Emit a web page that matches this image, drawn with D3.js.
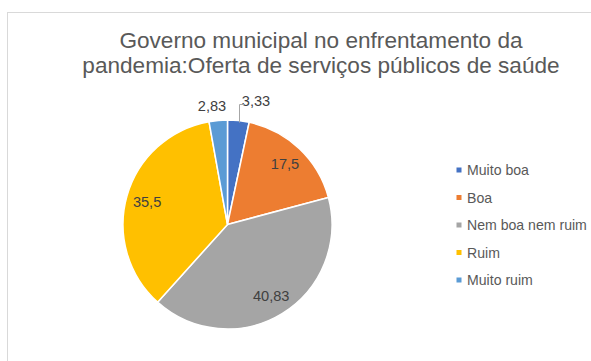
<!DOCTYPE html>
<html>
<head>
<meta charset="utf-8">
<script src="https://cdn.jsdelivr.net/npm/d3@7"></script>
<style>
  html, body { margin: 0; padding: 0; background: #fff; }
  svg { display: block; font-family: "Liberation Sans", Arial, sans-serif; }
</style>
</head>
<body>
<svg id="chart" width="591" height="361"></svg>
<script>
// Avaliação do governo municipal: oferta de serviços públicos de saúde (%)
const categories = ["Muito boa", "Boa", "Nem boa nem ruim", "Ruim", "Muito ruim"];
const values = [3.33, 17.5, 40.83, 35.5, 2.83];
const valueLabels = ["3,33", "17,5", "40,83", "35,5", "2,83"];
const colors = ["#4472C4", "#ED7D31", "#A5A5A5", "#FFC000", "#5B9BD5"];
const titleLines = ["Governo municipal no enfrentamento da", "pandemia:Oferta de serviços públicos de saúde"];

const svg = d3.select("#chart");

// chart area frame
svg.append("rect")
  .attr("x", 7.5).attr("y", 12.5)
  .attr("width", 600).attr("height", 400)
  .attr("fill", "#fff")
  .attr("stroke", "#d9d9d9")
  .attr("stroke-width", 1);

// title
svg.append("text")
  .attr("x", 321).attr("y", 47.5)
  .attr("text-anchor", "middle")
  .attr("fill", "#595959")
  .style("font-size", "22.6px")
  .selectAll("tspan")
  .data(titleLines)
  .join("tspan")
  .attr("x", 321)
  .attr("dy", (d, i) => i === 0 ? 0 : 25.7)
  .text(d => d);

// pie
const cx = 227.5, cy = 224.5, R = 104.5;
const pie = d3.pie().sort(null).value(d => d)(values);
const arc = d3.arc().innerRadius(0).outerRadius(R);
const labelArc = d3.arc().innerRadius(R * 0.8).outerRadius(R * 0.8);

const g = svg.append("g").attr("transform", `translate(${cx},${cy})`);

g.selectAll("path")
  .data(pie)
  .join("path")
  .attr("d", arc)
  .attr("fill", (d, i) => colors[i])
  .attr("stroke", "#fff")
  .attr("stroke-width", 1.5)
  .attr("stroke-linejoin", "round");

// data labels: the two small slices get their labels above the pie
const outsidePos = {
  0: { x: 256, y: 106 },
  4: { x: 212, y: 110.5 }
};

pie.forEach((d, i) => {
  let x, y;
  if (outsidePos[i]) {
    x = outsidePos[i].x; y = outsidePos[i].y;
  } else {
    const c = labelArc.centroid(d);
    x = cx + c[0]; y = cy + c[1] + 5.5;
  }
  svg.append("text")
    .attr("x", x).attr("y", y)
    .attr("text-anchor", "middle")
    .attr("fill", "#404040")
    .style("font-size", "14.6px")
    .text(valueLabels[i]);
});

// leader line for the first slice
const edgeY = cy - R * Math.cos((pie[0].startAngle + pie[0].endAngle) / 2);
svg.append("path")
  .attr("d", `M239.5,${edgeY + 2}V104.5H244`)
  .attr("fill", "none")
  .attr("stroke", "#a6a6a6")
  .attr("stroke-width", 1);

// legend
const legend = svg.append("g");
const rowY = d3.scalePoint().domain(categories).range([170, 280]);
categories.forEach((c, i) => {
  const y = rowY(c);
  legend.append("rect")
    .attr("x", 456.5).attr("y", y - 2.5)
    .attr("width", 5).attr("height", 5)
    .attr("fill", colors[i]);
  legend.append("text")
    .attr("x", 467).attr("y", y + 5)
    .attr("fill", "#595959")
    .style("font-size", "14.1px")
    .text(c);
});
</script>
</body>
</html>
